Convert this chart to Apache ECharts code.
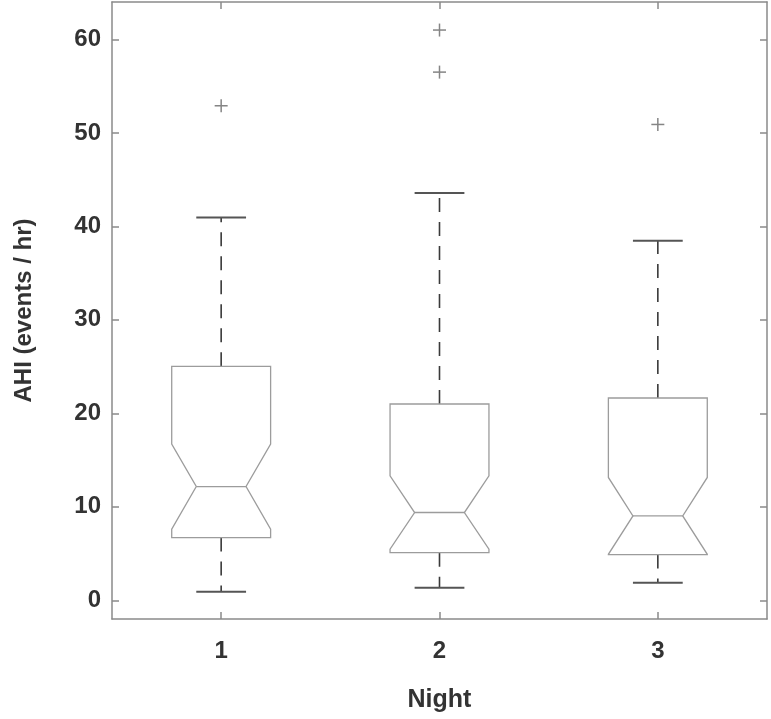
<!DOCTYPE html>
<html>
<head>
<meta charset="utf-8">
<script src="https://cdn.jsdelivr.net/npm/echarts@6/dist/echarts.min.js"></script>
<style>html,body{margin:0;padding:0;background:#fff}#c{width:771px;height:719px}</style>
</head>
<body>
<div id="c"></div>
<script>
// ---- data ----
var categories = ['1', '2', '3'];
var whiskerLow  = [0.92, 1.35, 1.89];
var q1          = [6.71, 5.10, 4.89];
var notchLow    = [7.60, 5.46, 4.92];
var median      = [12.17, 9.39, 9.03];
var notchHigh   = [16.71, 13.32, 13.14];
var q3          = [25.03, 21.00, 21.64];
var whiskerHigh = [40.96, 43.57, 38.46];
var outlierCat  = [0, 1, 1, 2];
var outlierVal  = [52.9, 61.0, 56.5, 50.9];
var yTicks      = [0, 10, 20, 30, 40, 50, 60];

var boxData = categories.map(function (c, i) {
  return [i, whiskerLow[i], q1[i], notchLow[i], median[i], notchHigh[i], q3[i], whiskerHigh[i]];
});
var outData = outlierCat.map(function (c, i) { return [c, outlierVal[i]]; });

var BOX_HALF = 0.2265, NOTCH_HALF = 0.114, CAP_HALF = 0.114;
var textColor = '#333333';
var frameColor = '#8a8a8a';
var font = '"Liberation Sans", Arial, sans-serif';

function renderBox(params, api) {
  var idx = api.value(0);
  var band = api.size([1, 0])[0];
  var c = api.coord([idx, api.value(4)]);
  var cx = c[0];
  function Y(d) { return api.coord([idx, api.value(d)])[1]; }
  var yLo = Y(1), yQ1 = Y(2), yNL = Y(3), yMed = Y(4), yNH = Y(5), yQ3 = Y(6), yHi = Y(7);
  var xl = cx - band * BOX_HALF, xr = cx + band * BOX_HALF;
  var xnl = cx - band * NOTCH_HALF, xnr = cx + band * NOTCH_HALF;
  var cw = band * CAP_HALF;
  var boxStyle = { stroke: '#9c9c9c', lineWidth: 1.3, fill: 'none' };
  var whiskStyle = { stroke: '#3a3a3a', lineWidth: 1.6, lineDash: [14, 10] };
  var capStyle = { stroke: '#555555', lineWidth: 2 };
  return {
    type: 'group',
    children: [
      { type: 'line', shape: { x1: cx, y1: yQ3, x2: cx, y2: yHi }, style: whiskStyle },
      { type: 'line', shape: { x1: cx, y1: yQ1, x2: cx, y2: yLo }, style: whiskStyle },
      { type: 'line', shape: { x1: cx - cw, y1: yHi, x2: cx + cw, y2: yHi }, style: capStyle },
      { type: 'line', shape: { x1: cx - cw, y1: yLo, x2: cx + cw, y2: yLo }, style: capStyle },
      { type: 'polygon', shape: { points: [
          [xl, yQ1], [xl, yNL], [xnl, yMed], [xl, yNH], [xl, yQ3],
          [xr, yQ3], [xr, yNH], [xnr, yMed], [xr, yNL], [xr, yQ1]
        ] }, style: { stroke: '#9c9c9c', lineWidth: 1.3, fill: '#ffffff' } },
      { type: 'line', shape: { x1: xnl, y1: yMed, x2: xnr, y2: yMed }, style: boxStyle }
    ]
  };
}

function renderOut(params, api) {
  var p = api.coord([api.value(0), api.value(1)]);
  var h = 6.5;
  var st = { stroke: '#858585', lineWidth: 1.5 };
  return {
    type: 'group',
    children: [
      { type: 'line', shape: { x1: p[0] - h, y1: p[1], x2: p[0] + h, y2: p[1] }, style: st },
      { type: 'line', shape: { x1: p[0], y1: p[1] - h, x2: p[0], y2: p[1] + h }, style: st }
    ]
  };
}

var lineStyle = { color: frameColor, width: 1.5 };
var chart = echarts.init(document.getElementById('c'), null, { renderer: 'canvas' });
chart.setOption({
  animation: false,
  backgroundColor: '#ffffff',
  grid: { left: 112, right: 4, top: 2, bottom: 100, containLabel: false },
  xAxis: [{
    type: 'category', data: categories, boundaryGap: true, position: 'bottom',
    name: 'Night', nameLocation: 'middle', nameGap: 69,
    nameTextStyle: { color: textColor, fontSize: 25, fontWeight: 'bold', fontFamily: font },
    axisLine: { show: true, onZero: false, lineStyle: lineStyle },
    axisTick: { show: true, inside: true, alignWithLabel: true, length: 7, lineStyle: lineStyle },
    axisLabel: { color: textColor, fontSize: 24, fontWeight: 'bold', fontFamily: font, margin: 20 },
    splitLine: { show: false }
  }, {
    type: 'category', data: categories, boundaryGap: true, position: 'top',
    axisLine: { show: true, onZero: false, lineStyle: lineStyle },
    axisTick: { show: true, inside: true, alignWithLabel: true, length: 7, lineStyle: lineStyle },
    axisLabel: { show: false }, splitLine: { show: false }
  }],
  yAxis: [{
    type: 'value', min: -2, max: 64, position: 'left',
    name: 'AHI (events / hr)', nameLocation: 'middle', nameGap: 76,
    nameTextStyle: { color: textColor, fontSize: 24, fontWeight: 'bold', fontFamily: font },
    axisLine: { show: true, onZero: false, lineStyle: lineStyle },
    axisTick: { show: true, inside: true, length: 7, customValues: yTicks, lineStyle: lineStyle },
    axisLabel: { color: textColor, fontSize: 24, fontWeight: 'bold', fontFamily: font, margin: 11, customValues: yTicks },
    splitLine: { show: false }
  }, {
    type: 'value', min: -2, max: 64, position: 'right',
    axisLine: { show: true, onZero: false, lineStyle: lineStyle },
    axisTick: { show: true, inside: true, length: 7, customValues: yTicks, lineStyle: lineStyle },
    axisLabel: { show: false }, splitLine: { show: false }
  }],
  series: [{
    type: 'custom', xAxisIndex: 0, yAxisIndex: 0,
    renderItem: renderBox,
    encode: { x: 0, y: [1, 2, 3, 4, 5, 6, 7] },
    data: boxData
  }, {
    type: 'custom', xAxisIndex: 0, yAxisIndex: 0,
    renderItem: renderOut,
    encode: { x: 0, y: 1 },
    data: outData
  }]
});
</script>
</body>
</html>
